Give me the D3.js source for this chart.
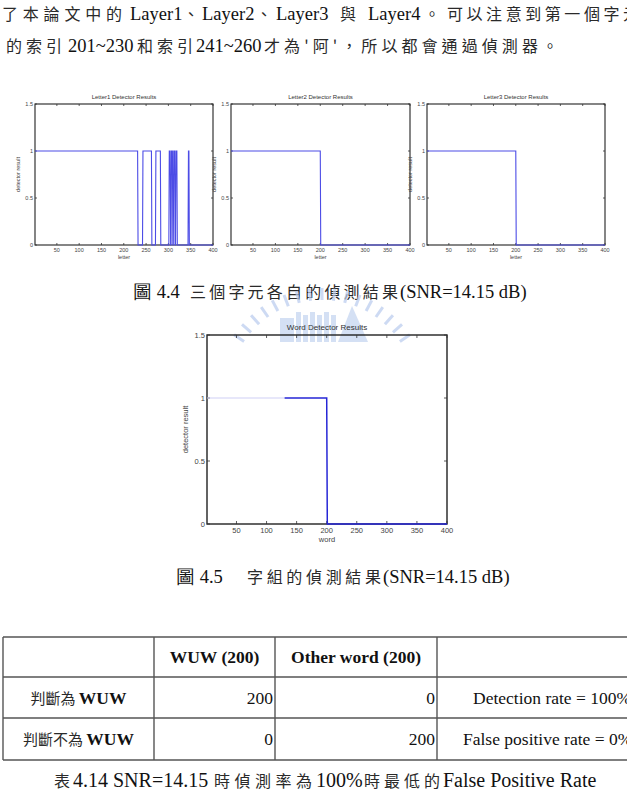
<!DOCTYPE html>
<html>
<head>
<meta charset="utf-8">
<script src="https://cdn.jsdelivr.net/npm/d3@7"></script>
<style>
body { margin: 0; background: #fff; }
svg { display: block; }
</style>
</head>
<body>
<div id="page"></div>
<script>
// ---- data ----
var xTicks = [50, 100, 150, 200, 250, 300, 350, 400];
var yTicks = [0, 0.5, 1, 1.5];
var xDomain = [1, 400];
var yDomain = [0, 1.5];

// index ranges where the detector output is 1 (0 everywhere else)
var letter1Runs = [[1, 231], [243, 262], [272, 282], [302, 304], [307, 309], [312, 314], [317, 319], [345, 346]];
var letter2Runs = [[1, 200]];
var letter3Runs = [[1, 200]];
var wordRuns = [[1, 200]];
var wordPaleUntil = 130;   // scan left the first part of the word line pale

var tableHeader = ["", "WUW (200)", "Other word (200)", ""];
var tableRows = [
  ["判斷為 WUW", "200", "0", "Detection rate = 100%"],
  ["判斷不為 WUW", "0", "200", "False positive rate = 0%"]
];

var W = 627, H = 795;
var serif = "'Liberation Serif', 'Times New Roman', serif";
var cjk = "'Noto Sans CJK TC', 'Noto Sans CJK SC', sans-serif";
var sans = "'Liberation Sans', Arial, sans-serif";

var svg = d3.select("#page").append("svg")
    .attr("width", W)
    .attr("height", H);

// turn runs into a step-shaped polyline (matlab plot of 1..400)
function runPoints(runs) {
  var pts = [];
  if (runs[0][0] > xDomain[0]) pts.push([xDomain[0], 0]);
  runs.forEach(function(r) {
    if (r[0] > xDomain[0]) pts.push([r[0] - 1, 0]);
    pts.push([r[0], 1]);
    pts.push([r[1], 1]);
    pts.push([r[1] + 1, 0]);
  });
  pts.push([xDomain[1], 0]);
  return pts;
}

// mixed text line: each piece placed where it sits on the page
function textLine(pieces, y) {
  pieces.forEach(function(p) {
    var t = svg.append("text")
        .attr("x", p.x)
        .attr("y", y)
        .attr("font-family", p.cjk ? cjk : serif)
        .attr("font-size", p.size || (p.cjk ? 16 : 18.5))
        .attr("font-weight", p.bold ? "bold" : null)
        .attr("fill", p.cjk ? "#2a2a2a" : "#111")
        .text(p.t);
    if (p.len) t.attr("textLength", p.len).attr("lengthAdjust", "spacing");
  });
}

// ---- body text at the top ----
textLine([
  {t: "了本論文中的", x: 2, cjk: true, len: 120},
  {t: "Layer1", x: 130},
  {t: "、", x: 183, cjk: true},
  {t: "Layer2", x: 202},
  {t: "、", x: 256, cjk: true},
  {t: "Layer3", x: 276},
  {t: "與", x: 340, cjk: true},
  {t: "Layer4", x: 368},
  {t: "。", x: 424, cjk: true},
  {t: "可以注意到第一個字元", x: 447, cjk: true, len: 192}
], 20);
textLine([
  {t: "的索引", x: 6, cjk: true, len: 56},
  {t: "201~230", x: 68},
  {t: "和索引", x: 137, cjk: true, len: 56},
  {t: "241~260", x: 196},
  {t: "才為'阿'，所以都會通過偵測器。", x: 264, cjk: true, len: 294}
], 52);

// ---- one detector plot ----
function drawPlot(o) {
  var x = d3.scaleLinear().domain(xDomain).range([o.left, o.right]);
  var y = d3.scaleLinear().domain(yDomain).range([o.bottom, o.top]);
  var g = svg.append("g");

  g.append("rect")
      .attr("x", o.left).attr("y", o.top)
      .attr("width", o.right - o.left).attr("height", o.bottom - o.top)
      .attr("fill", "none")
      .attr("stroke", "#222")
      .attr("stroke-width", o.frame);

  // matlab style ticks: inward, on all four sides
  g.selectAll(".xt").data(xTicks).enter().append("path")
      .attr("d", function(d) {
        return "M" + x(d) + "," + o.bottom + "v" + (-o.tick) + "M" + x(d) + "," + o.top + "v" + o.tick;
      })
      .attr("stroke", "#333").attr("stroke-width", 0.8);
  g.selectAll(".yt").data(yTicks).enter().append("path")
      .attr("d", function(d) {
        return "M" + o.left + "," + y(d) + "h" + o.tick + "M" + o.right + "," + y(d) + "h" + (-o.tick);
      })
      .attr("stroke", "#333").attr("stroke-width", 0.8);

  g.selectAll(".xl").data(xTicks).enter().append("text")
      .attr("x", function(d) { return x(d); })
      .attr("y", o.bottom + o.fs + 1.5)
      .attr("text-anchor", "middle")
      .attr("font-family", sans).attr("font-size", o.fs).attr("fill", "#444")
      .text(function(d) { return d; });
  g.selectAll(".yl").data(yTicks).enter().append("text")
      .attr("x", o.left - 2)
      .attr("y", function(d) { return y(d); })
      .attr("dy", "0.35em")
      .attr("text-anchor", "end")
      .attr("font-family", sans).attr("font-size", o.fs).attr("fill", "#444")
      .text(function(d) { return d; });

  g.append("text")
      .attr("x", (o.left + o.right) / 2)
      .attr("y", o.top - 5)
      .attr("text-anchor", "middle")
      .attr("font-family", sans).attr("font-size", o.fs + 0.5).attr("fill", "#333")
      .text(o.title);
  g.append("text")
      .attr("x", (o.left + o.right) / 2)
      .attr("y", o.bottom + 2 * o.fs + 3)
      .attr("text-anchor", "middle")
      .attr("font-family", sans).attr("font-size", o.fs).attr("fill", "#444")
      .text(o.xlabel);
  g.append("text")
      .attr("transform", "translate(" + (o.left - o.ylabOff) + "," + ((o.top + o.bottom) / 2) + ") rotate(-90)")
      .attr("text-anchor", "middle")
      .attr("font-family", sans).attr("font-size", o.fs).attr("fill", "#444")
      .text("detector result");

  var line = d3.line()
      .x(function(d) { return x(d[0]); })
      .y(function(d) { return y(d[1]); });
  var pts = runPoints(o.runs);

  if (o.paleUntil) {
    var clipId = "clip" + o.left;
    var defs = g.append("defs");
    defs.append("clipPath").attr("id", clipId + "a").append("rect")
        .attr("x", 0).attr("y", 0).attr("width", x(o.paleUntil)).attr("height", H);
    defs.append("clipPath").attr("id", clipId + "b").append("rect")
        .attr("x", x(o.paleUntil)).attr("y", 0).attr("width", W).attr("height", H);
    g.append("path").attr("d", line(pts))
        .attr("fill", "none").attr("stroke", "#cfcff6").attr("stroke-width", 1.2)
        .attr("clip-path", "url(#" + clipId + "a)");
    g.append("path").attr("d", line(pts))
        .attr("fill", "none").attr("stroke", o.color).attr("stroke-width", o.lw)
        .attr("clip-path", "url(#" + clipId + "b)");
  } else {
    g.append("path").attr("d", line(pts))
        .attr("fill", "none").attr("stroke", o.color).attr("stroke-width", o.lw);
  }
}

var small = {top: 104, bottom: 245, tick: 2, fs: 5.5, frame: 1.1, lw: 1.1, color: "#4c4ce6", ylabOff: 15, xlabel: "letter"};
drawPlot(Object.assign({}, small, {left: 35, right: 213, title: "Letter1 Detector Results", runs: letter1Runs}));
drawPlot(Object.assign({}, small, {left: 231, right: 410, title: "Letter2 Detector Results", runs: letter2Runs}));
drawPlot(Object.assign({}, small, {left: 427, right: 605, title: "Letter3 Detector Results", runs: letter3Runs}));

textLine([
  {t: "圖 4.4", x: 133},
  {t: "三個字元各自的偵測結果", x: 190, cjk: true, len: 208},
  {t: "(SNR=14.15 dB)", x: 400}
], 298);

// faint university watermark behind the word plot
var wm = svg.append("g").attr("opacity", 0.7);
d3.range(-146, -33, 7).forEach(function(a) {
  var r = a * Math.PI / 180;
  wm.append("line")
      .attr("x1", 322 + 94 * Math.cos(r)).attr("y1", 394 + 94 * Math.sin(r))
      .attr("x2", 322 + 106 * Math.cos(r)).attr("y2", 394 + 106 * Math.sin(r))
      .attr("stroke", "#b9cbee").attr("stroke-width", 3);
});
d3.range(0, 6).forEach(function(i) {
  wm.append("rect")
      .attr("x", 296 + i * 7).attr("y", 312 + (i % 2) * 3)
      .attr("width", 5).attr("height", 30 - (i % 2) * 3)
      .attr("fill", "#c3d3f0");
});
wm.append("path").attr("d", "M338,342L352,306L368,342Z").attr("fill", "#c3d3f0");
wm.append("rect").attr("x", 280).attr("y", 318).attr("width", 14).attr("height", 24).attr("fill", "#c3d3f0");

drawPlot({left: 207, right: 447, top: 335, bottom: 524, tick: 3, fs: 7.5, frame: 1.4, lw: 1.5, color: "#2626d6",
  ylabOff: 19, xlabel: "word", title: "Word Detector Results", runs: wordRuns, paleUntil: wordPaleUntil});

textLine([
  {t: "圖 4.5", x: 176},
  {t: "字組的偵測結果", x: 247, cjk: true, len: 134},
  {t: "(SNR=14.15 dB)", x: 383}
], 583);

// ---- table ----
var colX = [3, 154, 275, 437, 700];
var rowY = [637, 677, 718, 760];
var tg = svg.append("g");
rowY.forEach(function(yy) {
  tg.append("line").attr("x1", colX[0]).attr("x2", W).attr("y1", yy).attr("y2", yy)
      .attr("stroke", "#555").attr("stroke-width", 1.4);
});
colX.slice(0, 4).forEach(function(xx) {
  tg.append("line").attr("x1", xx).attr("x2", xx).attr("y1", rowY[0]).attr("y2", rowY[3])
      .attr("stroke", "#555").attr("stroke-width", 1.4);
});
[1, 2].forEach(function(c) {
  tg.append("text")
      .attr("x", (colX[c] + colX[c + 1]) / 2).attr("y", (rowY[0] + rowY[1]) / 2 + 6)
      .attr("text-anchor", "middle")
      .attr("font-family", serif).attr("font-size", 17.5).attr("font-weight", "bold").attr("fill", "#111")
      .text(tableHeader[c]);
});
tableRows.forEach(function(row, i) {
  var yy = (rowY[i + 1] + rowY[i + 2]) / 2 + 6;
  var lab = tg.append("text")
      .attr("x", (colX[0] + colX[1]) / 2).attr("y", yy)
      .attr("text-anchor", "middle").attr("fill", "#111");
  var parts = row[0].split(" ");
  lab.append("tspan").attr("font-family", cjk).attr("font-size", 15).attr("fill", "#2a2a2a").text(parts[0] + " ");
  lab.append("tspan").attr("font-family", serif).attr("font-size", 17.5).attr("font-weight", "bold").text(parts[1]);
  [1, 2].forEach(function(c) {
    tg.append("text")
        .attr("x", colX[c + 1] - 2).attr("y", yy)
        .attr("text-anchor", "end")
        .attr("font-family", serif).attr("font-size", 17.5).attr("fill", "#111")
        .text(row[c]);
  });
  tg.append("text")
      .attr("x", i === 0 ? 473 : 463).attr("y", yy)
      .attr("font-family", serif).attr("font-size", 17.5).attr("fill", "#111")
      .text(row[3]);
});

textLine([
  {t: "表", x: 54, cjk: true},
  {t: "4.14 SNR=14.15", x: 73, size: 20},
  {t: "時偵測率為", x: 214, cjk: true, len: 98},
  {t: "100%", x: 316, size: 20},
  {t: "時最低的", x: 364, cjk: true, len: 76},
  {t: "False Positive Rate", x: 443, size: 20}
], 787);
</script>
</body>
</html>
